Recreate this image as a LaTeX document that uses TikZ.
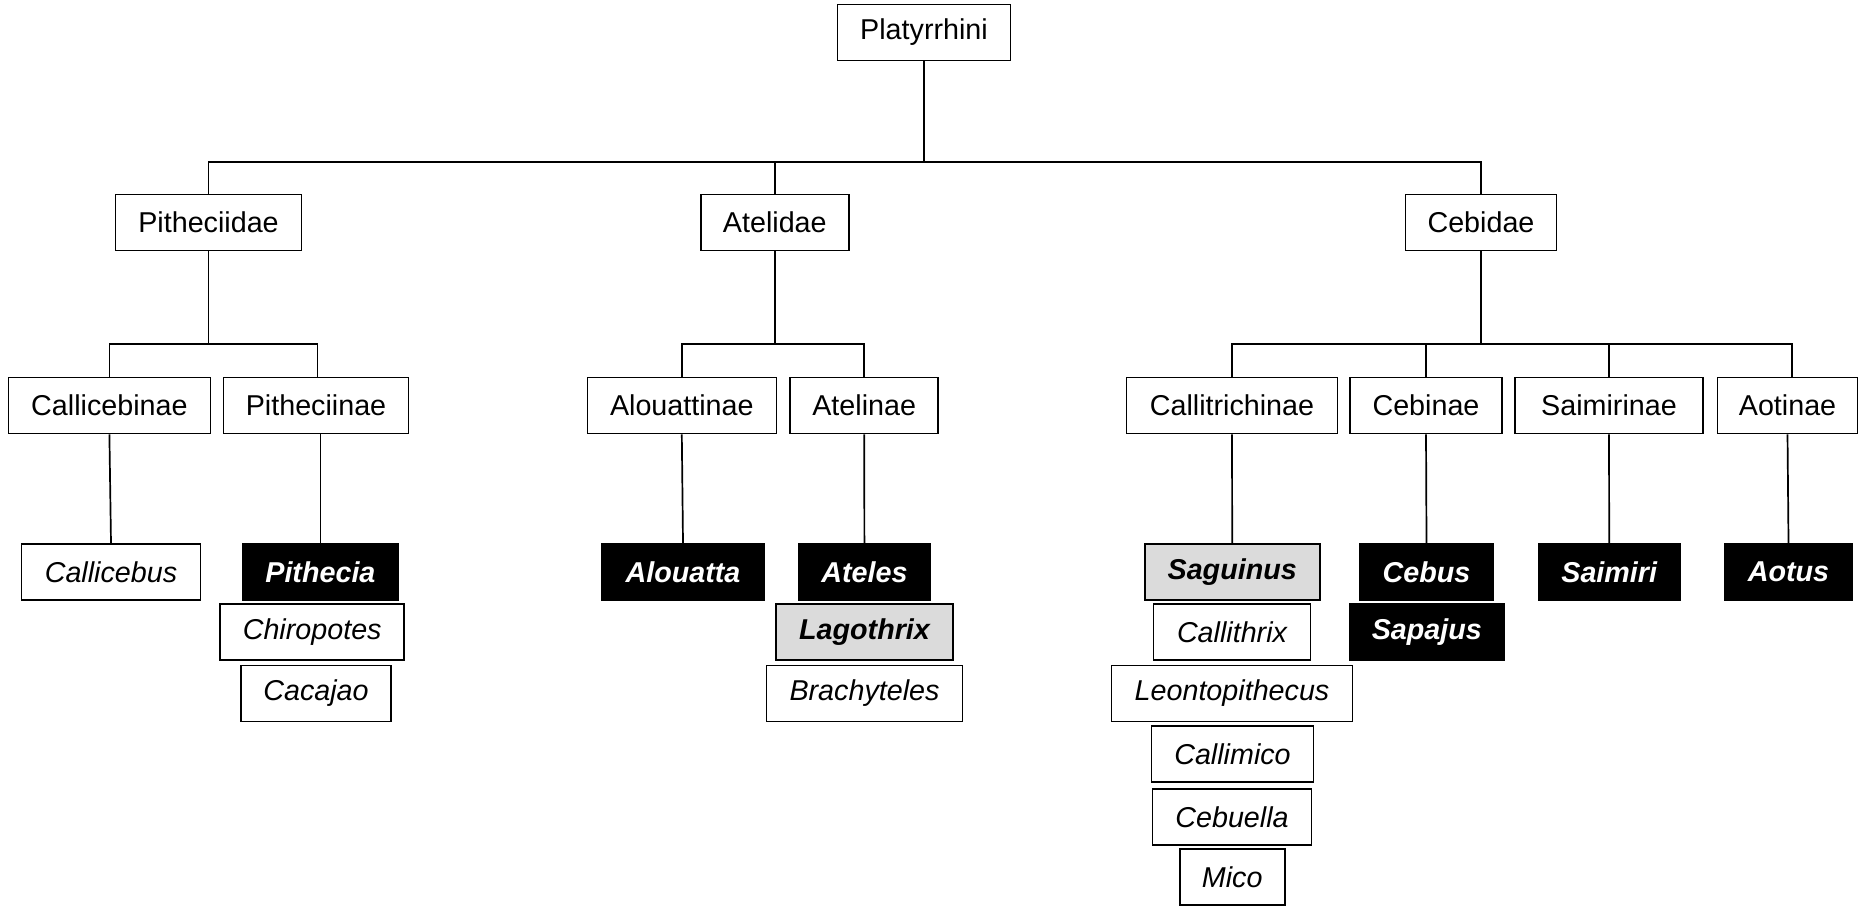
\documentclass[tikz,border=0pt]{standalone}
\usepackage{fontspec}
\setmainfont{Liberation Sans}
\newcommand{\fsz}{\fontsize{28.7}{34}\selectfont}
\begin{document}
\begin{tikzpicture}[x=1pt,y=-1pt]
\tikzset{
  box/.style={draw, line width=1.6pt, inner sep=0pt, minimum height=56pt, font=\fsz},
  gen/.style={box, font=\fsz\itshape},
  blk/.style={box, fill=black, text=white, font=\fsz\bfseries\itshape},
  gry/.style={box, fill=black!14, font=\fsz\bfseries\itshape},
  conn/.style={line width=1.7pt}
}
\useasboundingbox (0,0) rectangle (1859,907);
% root
\node[box, minimum width=173pt] (plat) at (924,32.5) {Platyrrhini};
% families
\node[box, minimum width=186pt] (pfam) at (208.5,222.5) {Pitheciidae};
\node[box, minimum width=148pt] (afam) at (774.8,222.5) {Atelidae};
\node[box, minimum width=151pt] (cfam) at (1481,222.5) {Cebidae};
% subfamilies
\node[box, minimum width=202pt] (callicebinae) at (109.4,405.5) {Callicebinae};
\node[box, minimum width=185pt] (pitheciinae) at (316,405.5) {Pitheciinae};
\node[box, minimum width=189pt] (alouattinae) at (681.8,405.5) {Alouattinae};
\node[box, minimum width=148pt] (atelinae) at (864.2,405.5) {Atelinae};
\node[box, minimum width=211pt] (callitrichinae) at (1232,405.5) {Callitrichinae};
\node[box, minimum width=152pt] (cebinae) at (1426,405.5) {Cebinae};
\node[box, minimum width=188pt] (saimirinae) at (1609,405.5) {Saimirinae};
\node[box, minimum width=140pt] (aotinae) at (1787.5,405.5) {Aotinae};
% genera, row 1
\node[gen, minimum width=179pt] (callicebus) at (111,571.8) {Callicebus};
\node[blk, minimum width=156pt] (pithecia) at (320.4,571.8) {Pithecia};
\node[blk, minimum width=162pt] (alouatta) at (683,571.8) {Alouatta};
\node[blk, minimum width=132pt] (ateles) at (864.4,571.8) {Ateles};
\node[gry, minimum width=175pt] (saguinus) at (1232.2,571.8) {Saguinus};
\node[blk, minimum width=134pt] (cebus) at (1426.5,571.8) {Cebus};
\node[blk, minimum width=141pt] (saimiri) at (1609.2,571.8) {Saimiri};
\node[blk, minimum width=128pt] (aotus) at (1788.5,571.8) {Aotus};
% row 2
\node[gen, minimum width=184pt] (chiropotes) at (312.2,632) {Chiropotes};
\node[gry, minimum width=177pt] (lagothrix) at (864.5,632) {Lagothrix};
\node[gen, minimum width=157pt] (callithrix) at (1232,632) {Callithrix};
\node[blk, minimum width=155pt] (sapajus) at (1426.8,632) {Sapajus};
% row 3
\node[gen, minimum width=150pt] (cacajao) at (316,693.5) {Cacajao};
\node[gen, minimum width=196pt] (brachyteles) at (864.5,693.5) {Brachyteles};
\node[gen, minimum width=241pt] (leontopithecus) at (1232,693.5) {Leontopithecus};
% rows 4-6
\node[gen, minimum width=162pt] (callimico) at (1232.5,754.2) {Callimico};
\node[gen, minimum width=159pt] (cebuella) at (1232,816.9) {Cebuella};
\node[gen, minimum width=105pt] (mico) at (1232.2,877) {Mico};
% bar levels
\coordinate (b0) at (0,161.7);
\coordinate (b1) at (0,344);
% connectors: root to families
\draw[conn] (plat.south) -- (plat.south |- b0);
\draw[conn] (pfam.north) -- (pfam.north |- b0) -- (cfam.north |- b0) -- (cfam.north);
\draw[conn] (afam.north) -- (afam.north |- b0);
% Pitheciidae
\draw[conn] (pfam.south) -- (pfam.south |- b1);
\draw[conn] (callicebinae.north) -- (callicebinae.north |- b1) -- ([xshift=1.5pt]pitheciinae.north |- b1) -- ([xshift=1.5pt]pitheciinae.north);
% Atelidae
\draw[conn] (afam.south) -- (afam.south |- b1);
\draw[conn] (alouattinae.north) -- (alouattinae.north |- b1) -- (atelinae.north |- b1) -- (atelinae.north);
% Cebidae
\draw[conn] (cfam.south) -- (cfam.south |- b1);
\draw[conn] (callitrichinae.north) -- (callitrichinae.north |- b1) -- ([xshift=4.2pt]aotinae.north |- b1) -- ([xshift=4.2pt]aotinae.north);
\draw[conn] (cebinae.north) -- (cebinae.north |- b1);
\draw[conn] (saimirinae.north) -- (saimirinae.north |- b1);
% subfamilies to genera
\draw[conn] (callicebinae.south) -- (callicebus.north);
\draw[conn] (pitheciinae.south -| pithecia.north) -- (pithecia.north);
\draw[conn] (alouattinae.south) -- (alouatta.north);
\draw[conn] (atelinae.south) -- (ateles.north);
\draw[conn] (callitrichinae.south) -- (saguinus.north);
\draw[conn] (cebinae.south) -- (cebus.north);
\draw[conn] (saimirinae.south) -- (saimiri.north);
\draw[conn] (aotinae.south) -- (aotus.north);
\end{tikzpicture}
\end{document}
